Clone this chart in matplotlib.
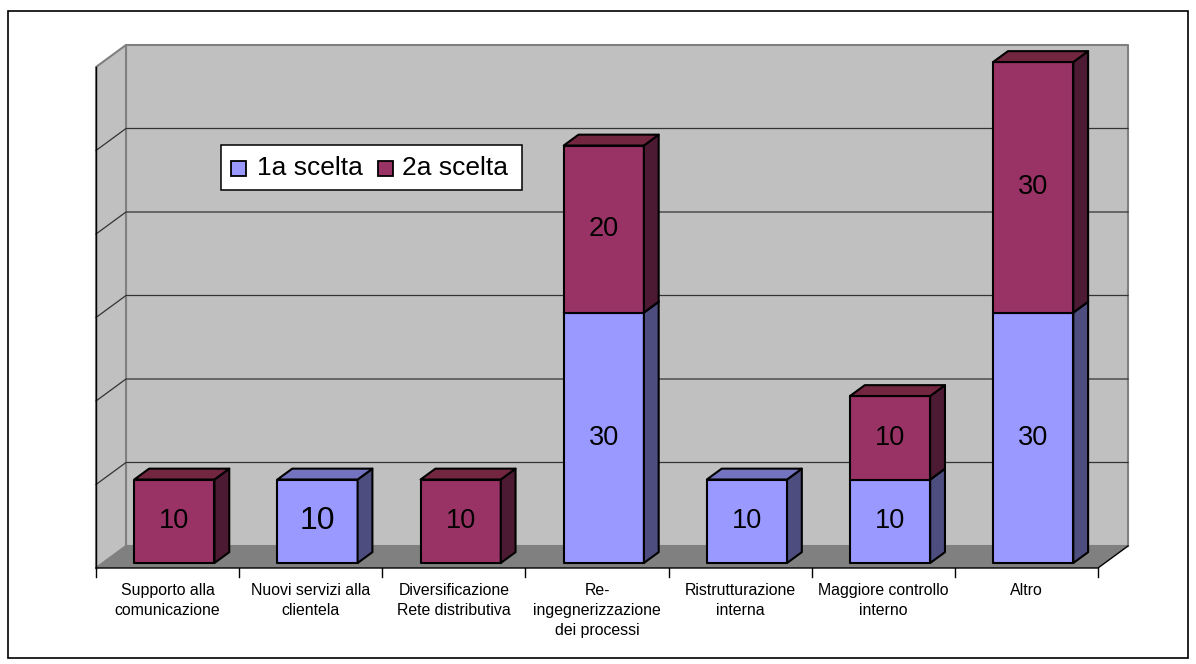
"""
Stacked 3D-look column chart, 1a / 2a scelta
"""
import matplotlib
matplotlib.use("Agg")
import matplotlib.pyplot as plt
from matplotlib.patches import Rectangle

plt.rcParams['font.family'] = ['Liberation Sans', 'DejaVu Sans']

categories = ["Supporto alla\ncomunicazione", "Nuovi servizi alla\nclientela",
              "Diversificazione\nRete distributiva", "Re-\ningegnerizzazione\ndei processi",
              "Ristrutturazione\ninterna", "Maggiore controllo\ninterno", "Altro"]
prima_scelta = [0, 10, 0, 30, 10, 10, 30]
seconda_scelta = [10, 0, 10, 20, 0, 10, 30]
label_sizes_1 = [0, 23, 0, 19.5, 19.5, 19.5, 19.5]
grid_values = [10, 20, 30, 40, 50, 60]

W, H = 1196, 664
LEFT, RIGHT, FLOOR, TOP = 96, 1098, 568, 67
DEPTH_X, DEPTH_Y = 30, 22   # wall depth in pixels

fig = plt.figure(figsize=(W / 100, H / 100), dpi=100)
fig.patches.append(Rectangle((8 / W, 1 - 657.5 / H), 1179.5 / W, 646.5 / H, transform=fig.transFigure,
                             fc='white', ec='black', lw=1.2, zorder=-1))
ax = fig.add_axes([LEFT / W, 1 - FLOOR / H, (RIGHT - LEFT) / W, (FLOOR - TOP) / H])
ax.set_xlim(-0.5, 6.5)
ax.set_ylim(0, 60)
ax.axis('off')

px_x = (RIGHT - LEFT) / 7
px_y = (FLOOR - TOP) / 60


def proj(x, y, d):
    # move a data point back by d (0 front, 1 back wall)
    return x + d * DEPTH_X / px_x, y + d * DEPTH_Y / px_y


def poly(points, color, ec='none', lw=0, z=1):
    pts = [proj(*p) for p in points]
    ax.fill([p[0] for p in pts], [p[1] for p in pts], fc=color, ec=ec, lw=lw, zorder=z,
            clip_on=False, joinstyle='round')


def box(x, y0, y1, front, side, top, z):
    w = 0.28
    d0, d1 = 5 / 22, 0.72
    poly([(x - w, y0, d0), (x + w, y0, d0), (x + w, y1, d0), (x - w, y1, d0)], front, 'black', 1.5, z)
    poly([(x + w, y0, d0), (x + w, y0, d1), (x + w, y1, d1), (x + w, y1, d0)], side, 'black', 1.5, z)
    poly([(x - w, y1, d0), (x + w, y1, d0), (x + w, y1, d1), (x - w, y1, d1)], top, 'black', 1.5, z)


xl, xr = -0.5, 6.5
# back wall, side wall, floor
poly([(xl, 0, 1), (xr, 0, 1), (xr, 60, 1), (xl, 60, 1)], '#C0C0C0', '#808080', 1.5)
poly([(xl, 0, 0), (xl, 0, 1), (xl, 60, 1), (xl, 60, 0)], '#C0C0C0', '#808080', 1.5)
poly([(xl, 0, 0), (xr, 0, 0), (xr, 0, 1), (xl, 0, 1)], '#808080', z=1.5)

for g in grid_values[:-1]:
    a, b = proj(xl, g, 0), proj(xl, g, 1)
    c = proj(xr, g, 1)
    ax.plot([a[0], b[0], c[0]], [a[1], b[1], c[1]], color='#333333', lw=0.9, zorder=1.2, clip_on=False)
# front edges of the walls and floor
ax.plot([xl, xl], [0, 60], color='black', lw=1, zorder=1.6, clip_on=False)
b = proj(xr, 0, 1)
ax.plot([xl, xr, b[0]], [0, 0, b[1]], color='black', lw=1, zorder=1.6, clip_on=False)

# axis ticks and labels
for i in range(8):
    ax.plot([i - 0.5, i - 0.5], [0, -9 / px_y], color='black', lw=1, clip_on=False)
for i, name in enumerate(categories):
    ax.annotate(name, (i, 0), xytext=(0, -10.5), textcoords='offset points', ha='center', va='top',
                fontsize=11.4, linespacing=1.43, annotation_clip=False)

# bars
for i, (a1, a2) in enumerate(zip(prima_scelta, seconda_scelta)):
    if a1:
        box(i, 0, a1, '#9999FF', '#4D4D80', '#7373BF', 2)
        cx, cy = proj(i, a1 / 2, 5 / 22)
        ax.text(cx, cy, str(a1), ha='center', va='center', fontsize=label_sizes_1[i], zorder=5)
    if a2:
        box(i, a1, a1 + a2, '#993366', '#4D1A33', '#732640', 2.5)
        cx, cy = proj(i, a1 + a2 / 2, 5 / 22)
        ax.text(cx, cy, str(a2), ha='center', va='center', fontsize=19.5, zorder=5)

# legend
fig.patches.append(Rectangle((221.5 / W, 1 - 189.5 / H), 300 / W, 44 / H, transform=fig.transFigure,
                             fc='white', ec='black', lw=1.1, zorder=6))
for x0, color, name, tx in [(231, '#9999FF', '1a scelta', 257), (378, '#993366', '2a scelta', 402)]:
    fig.patches.append(Rectangle((x0 / W, 1 - 176 / H), 15 / W, 15 / H, transform=fig.transFigure,
                                 fc=color, ec='black', lw=1.3, zorder=7))
    fig.text(tx / W, 1 - 168.5 / H, name, fontsize=19, va='center', ha='left', zorder=8)

fig.savefig('out.png', dpi=100)
